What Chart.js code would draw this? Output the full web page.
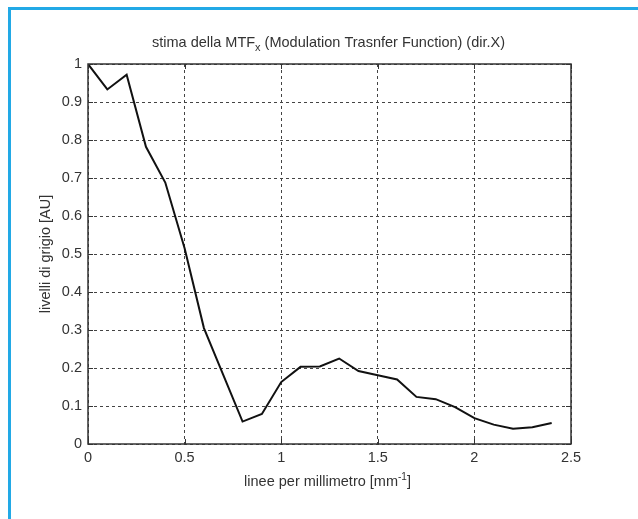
<!DOCTYPE html>
<html>
<head>
<meta charset="utf-8">
<script src="https://cdn.jsdelivr.net/npm/chart.js@4"></script>
<style>
  body { margin: 0; background: #fff; }
  #wrap { position: relative; width: 638px; height: 519px; overflow: hidden; }
  #cornice { position: absolute; left: 8px; top: 7px; width: 700px; height: 600px;
    border-left: 3px solid #22a9e6; border-top: 3px solid #22a9e6; pointer-events: none; }
</style>
</head>
<body>
<div id="wrap">
  <canvas id="grafico" width="638" height="519"></canvas>
  <div id="cornice"></div>
</div>
<script>
// frequenze (linee per millimetro)
const frequenze = [0, 0.1, 0.2, 0.3, 0.4, 0.5, 0.6, 0.7, 0.8, 0.9, 1.0, 1.1, 1.2,
    1.3, 1.4, 1.5, 1.6, 1.7, 1.8, 1.9, 2.0, 2.1, 2.2, 2.3, 2.4];
// stima della MTF
const valoriMTF = [1.0, 0.933, 0.972, 0.782, 0.688, 0.515, 0.305, 0.182, 0.059, 0.079,
    0.163, 0.203, 0.204, 0.225, 0.192, 0.181, 0.170, 0.124, 0.118, 0.097, 0.068, 0.051,
    0.040, 0.044, 0.055];

const tickX = [0, 0.5, 1, 1.5, 2, 2.5];
const tickY = [0, 0.1, 0.2, 0.3, 0.4, 0.5, 0.6, 0.7, 0.8, 0.9, 1];

const fonte = "'Liberation Sans', Arial, sans-serif";
const coloreTesto = '#333';

// Disegna cornice, tacche interne e testi con apici/pedici
const testiPlugin = {
    id: 'testi',
    afterDraw(chart) {
        const ctx = chart.ctx;
        const a = chart.chartArea;
        const sx = chart.scales.x;
        const sy = chart.scales.y;
        ctx.save();

        // tacche interne
        ctx.strokeStyle = '#333';
        ctx.lineWidth = 1;
        ctx.setLineDash([]);
        tickX.forEach(v => {
            const px = Math.round(sx.getPixelForValue(v)) + 0.5;
            ctx.beginPath();
            ctx.moveTo(px, a.bottom); ctx.lineTo(px, a.bottom - 5);
            ctx.moveTo(px, a.top); ctx.lineTo(px, a.top + 5);
            ctx.stroke();
        });
        tickY.forEach(v => {
            const py = Math.round(sy.getPixelForValue(v)) + 0.5;
            ctx.beginPath();
            ctx.moveTo(a.left, py); ctx.lineTo(a.left + 5, py);
            ctx.moveTo(a.right, py); ctx.lineTo(a.right - 5, py);
            ctx.stroke();
        });

        // cornice degli assi
        ctx.lineWidth = 1.5;
        ctx.strokeStyle = '#333';
        ctx.strokeRect(a.left, a.top, a.right - a.left, a.bottom - a.top);

        ctx.fillStyle = coloreTesto;
        ctx.textBaseline = 'alphabetic';

        // titolo
        const cx = (a.left + a.right) / 2;
        const parti = [
            { t: 'stima della MTF', f: '14.5px ' + fonte, dy: 0 },
            { t: 'x', f: '11px ' + fonte, dy: 4 },
            { t: ' (Modulation Trasnfer Function) (dir.X)', f: '14.5px ' + fonte, dy: 0 }
        ];
        scriviRiga(ctx, parti, cx - 1, 47);

        // etichetta asse x
        const partiX = [
            { t: 'linee per millimetro [mm', f: '14.5px ' + fonte, dy: 0 },
            { t: '-1', f: '10px ' + fonte, dy: -6 },
            { t: ']', f: '14.5px ' + fonte, dy: 0 }
        ];
        scriviRiga(ctx, partiX, cx - 2, 486);

        // etichetta asse y
        ctx.translate(50, (a.top + a.bottom) / 2);
        ctx.rotate(-Math.PI / 2);
        ctx.font = '14.5px ' + fonte;
        ctx.textAlign = 'center';
        ctx.fillText('livelli di grigio [AU]', 0, 0);
        ctx.restore();
    }
};

function scriviRiga(ctx, parti, cx, y) {
    let tot = 0;
    parti.forEach(p => { ctx.font = p.f; p.w = ctx.measureText(p.t).width; tot += p.w; });
    let x = cx - tot / 2;
    ctx.textAlign = 'left';
    parti.forEach(p => {
        ctx.font = p.f;
        ctx.fillText(p.t, x, y + p.dy);
        x += p.w;
    });
}

const punti = frequenze.map((f, i) => ({ x: f, y: valoriMTF[i] }));

new Chart(document.getElementById('grafico'), {
    type: 'line',
    data: {
        datasets: [{
            label: 'MTF',
            data: punti,
            borderColor: '#111',
            borderWidth: 2,
            pointRadius: 0,
            tension: 0,
            fill: false
        }]
    },
    options: {
        responsive: false,
        animation: false,
        layout: { padding: { left: 0, top: 64, right: 67, bottom: 0 } },
        plugins: {
            legend: { display: false },
            title: { display: false },
            tooltip: { enabled: false }
        },
        scales: {
            x: {
                type: 'linear',
                min: 0,
                max: 2.5,
                afterBuildTicks: s => { s.ticks = tickX.map(v => ({ value: v })); },
                afterFit: s => { s.height = 75; },
                grid: { color: '#444', lineWidth: 1, drawTicks: false },
                border: { display: false, dash: [3, 3] },
                ticks: {
                    padding: 5,
                    color: coloreTesto,
                    font: { family: fonte, size: 14.5 },
                    maxRotation: 0,
                    callback: v => String(v)
                }
            },
            y: {
                type: 'linear',
                min: 0,
                max: 1,
                afterBuildTicks: s => { s.ticks = tickY.map(v => ({ value: v })); },
                afterFit: s => { s.width = 88; },
                grid: { color: '#444', lineWidth: 1, drawTicks: false },
                border: { display: false, dash: [3, 3] },
                ticks: {
                    padding: 6,
                    color: coloreTesto,
                    font: { family: fonte, size: 14.5 },
                    callback: v => String(Math.round(v * 10) / 10)
                }
            }
        }
    },
    plugins: [testiPlugin]
});
</script>
</body>
</html>
